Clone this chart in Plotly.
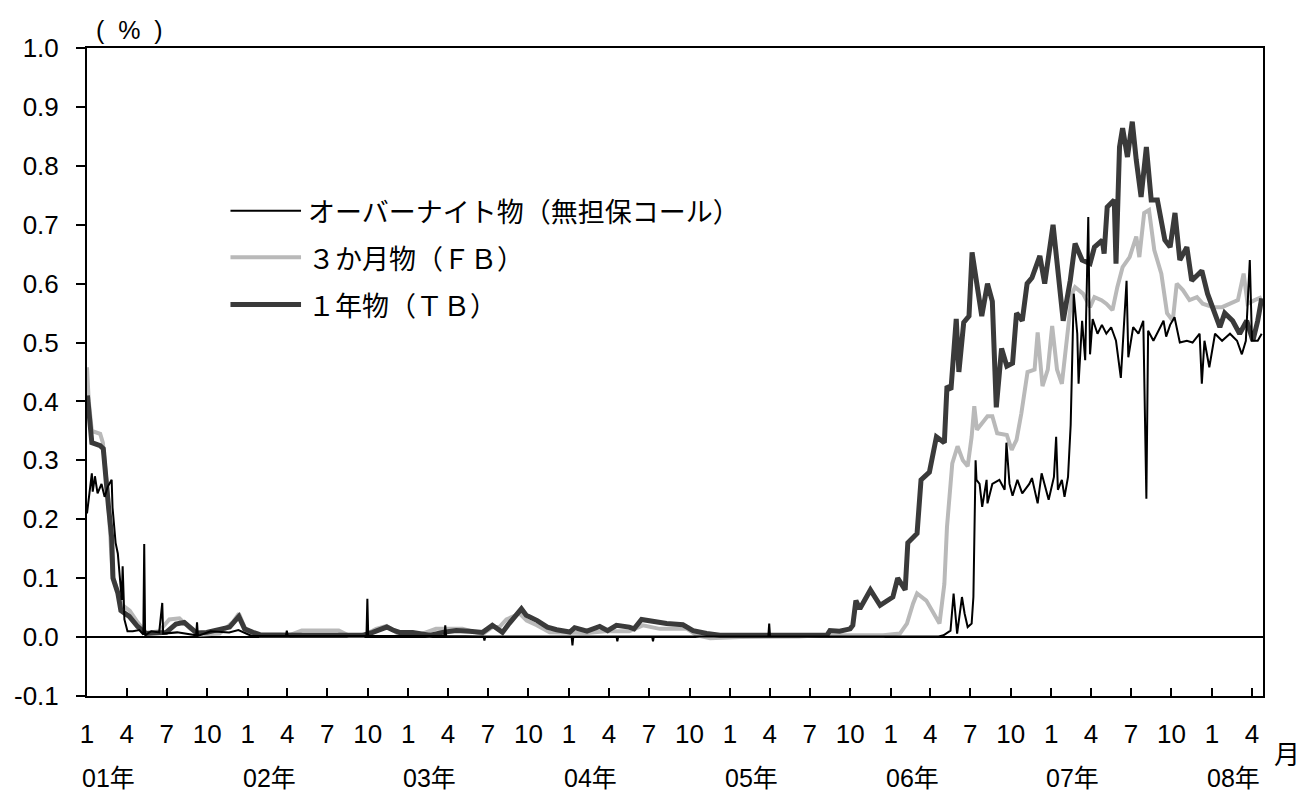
import plotly.graph_objects as go

# 1-year TB
tb_dates = ["2001-01-02", "2001-01-08", "2001-01-12", "2001-01-31", "2001-02-07", "2001-02-19", "2001-02-26",
            "2001-03-01", "2001-03-12", "2001-03-19", "2001-04-07", "2001-04-26", "2001-05-15", "2001-06-30",
            "2001-07-22", "2001-08-10", "2001-09-07", "2001-09-30", "2001-10-30", "2001-11-21", "2001-12-12",
            "2001-12-25", "2002-01-13", "2002-01-29", "2002-04-28", "2002-07-28", "2002-09-19", "2002-10-12",
            "2002-11-13", "2002-11-27", "2002-12-12", "2003-01-11", "2003-02-18", "2003-03-20", "2003-04-20",
            "2003-05-20", "2003-06-19", "2003-07-11", "2003-08-03", "2003-08-18", "2003-09-15", "2003-09-26",
            "2003-10-21", "2003-11-13", "2003-12-04", "2004-01-03", "2004-01-14", "2004-02-11", "2004-03-11",
            "2004-03-29", "2004-04-18", "2004-05-17", "2004-05-28", "2004-06-14", "2004-07-09", "2004-08-10",
            "2004-09-16", "2004-10-09", "2004-11-09", "2004-12-09", "2005-08-09", "2005-08-16", "2005-09-07",
            "2005-10-01", "2005-10-07", "2005-10-14", "2005-10-23", "2005-11-16", "2005-12-08", "2006-01-06",
            "2006-01-17", "2006-02-03", "2006-02-09", "2006-03-02", "2006-03-11", "2006-03-30", "2006-04-15",
            "2006-05-03", "2006-05-09", "2006-05-18", "2006-05-30", "2006-06-05", "2006-06-16", "2006-06-28",
            "2006-07-05", "2006-07-16", "2006-07-27", "2006-08-09", "2006-08-20", "2006-08-29", "2006-09-10",
            "2006-09-22", "2006-10-05", "2006-10-14", "2006-10-27", "2006-11-07", "2006-11-18", "2006-12-06",
            "2006-12-17", "2007-01-05", "2007-01-14", "2007-01-28", "2007-02-13", "2007-02-24", "2007-03-12",
            "2007-03-30", "2007-04-09", "2007-04-27", "2007-05-01", "2007-05-08", "2007-05-24", "2007-05-28",
            "2007-06-05", "2007-06-12", "2007-06-23", "2007-07-04", "2007-07-13", "2007-07-24", "2007-08-05",
            "2007-08-16", "2007-08-30", "2007-09-16", "2007-09-28", "2007-10-09", "2007-10-20", "2007-11-05",
            "2007-11-16", "2007-12-09", "2007-12-22", "2008-01-19", "2008-01-30", "2008-02-17", "2008-03-04",
            "2008-03-20", "2008-04-03", "2008-04-14", "2008-04-23"]
tb_values = [0.41, 0.35, 0.33, 0.325, 0.32, 0.22, 0.17,
             0.10, 0.075, 0.045, 0.035, 0.018, 0.006, 0.008,
             0.022, 0.025, 0.007, 0.008, 0.012, 0.017, 0.035,
             0.014, 0.008, 0.004, 0.003, 0.004, 0.003, 0.008,
             0.017, 0.012, 0.008, 0.008, 0.003, 0.008, 0.011,
             0.010, 0.008, 0.020, 0.008, 0.023, 0.048, 0.037,
             0.028, 0.017, 0.0125, 0.0085, 0.016, 0.010, 0.018,
             0.011, 0.020, 0.017, 0.014, 0.030, 0.026, 0.023,
             0.021, 0.011, 0.006, 0.003, 0.003, 0.011, 0.010,
             0.014, 0.020, 0.062, 0.048, 0.080, 0.054, 0.068,
             0.100, 0.080, 0.160, 0.176, 0.267, 0.280, 0.340,
             0.330, 0.426, 0.420, 0.540, 0.450, 0.534, 0.545,
             0.653, 0.600, 0.545, 0.600, 0.570, 0.390, 0.490,
             0.460, 0.465, 0.550, 0.537, 0.600, 0.610, 0.647,
             0.600, 0.700, 0.640, 0.537, 0.605, 0.668, 0.640,
             0.634, 0.662, 0.674, 0.651, 0.730, 0.742, 0.634,
             0.832, 0.864, 0.815, 0.875, 0.810, 0.747, 0.832,
             0.742, 0.742, 0.674, 0.662, 0.720, 0.640, 0.662,
             0.605, 0.622, 0.583, 0.526, 0.550, 0.537, 0.515,
             0.537, 0.503, 0.537, 0.575]

# 3-month FB
fb_dates = ["2001-01-01", "2001-01-05", "2001-01-12", "2001-01-31", "2001-02-06", "2001-02-18", "2001-02-28",
            "2001-03-21", "2001-04-08", "2001-04-26", "2001-05-16", "2001-06-14", "2001-07-07", "2001-07-30",
            "2001-08-22", "2001-09-13", "2001-10-29", "2001-11-28", "2001-12-12", "2001-12-30", "2002-01-29",
            "2002-04-05", "2002-05-04", "2002-07-27", "2002-08-20", "2002-09-19", "2002-10-20", "2002-11-13",
            "2002-12-12", "2003-01-27", "2003-03-05", "2003-05-04", "2003-05-20", "2003-06-19", "2003-07-11",
            "2003-07-27", "2003-08-12", "2003-09-11", "2003-09-27", "2003-10-20", "2003-11-18", "2004-01-03",
            "2004-02-11", "2004-03-23", "2004-05-17", "2004-06-17", "2004-07-25", "2004-09-25", "2004-10-18",
            "2004-11-17", "2005-01-24", "2005-06-07", "2005-07-23", "2005-10-07", "2005-12-15", "2006-01-22",
            "2006-02-07", "2006-02-21", "2006-03-02", "2006-03-23", "2006-04-06", "2006-04-22", "2006-05-03",
            "2006-05-09", "2006-05-21", "2006-06-02", "2006-06-14", "2006-06-25", "2006-07-04", "2006-07-10",
            "2006-07-16", "2006-07-27", "2006-08-09", "2006-08-20", "2006-08-31", "2006-09-22", "2006-10-03",
            "2006-10-14", "2006-10-25", "2006-11-08", "2006-11-24", "2006-12-01", "2006-12-12", "2006-12-24",
            "2007-01-03", "2007-01-14", "2007-01-25", "2007-02-06", "2007-02-17", "2007-02-24", "2007-03-14",
            "2007-03-30", "2007-04-09", "2007-04-25", "2007-05-06", "2007-05-20", "2007-05-31", "2007-06-12",
            "2007-06-28", "2007-07-13", "2007-07-20", "2007-07-31", "2007-08-11", "2007-08-23", "2007-09-08",
            "2007-09-21", "2007-10-04", "2007-10-13", "2007-10-27", "2007-11-11", "2007-11-28", "2007-12-11",
            "2008-01-04", "2008-01-24", "2008-02-11", "2008-02-29", "2008-03-13", "2008-03-22", "2008-04-07",
            "2008-04-23"]
fb_values = [0.458, 0.40, 0.35, 0.345, 0.33, 0.235, 0.105,
             0.055, 0.045, 0.025, 0.007, 0.010, 0.030, 0.032,
             0.015, 0.004, 0.006, 0.025, 0.040, 0.008, 0.003,
             0.003, 0.011, 0.011, 0.002, 0.002, 0.014, 0.019,
             0.004, 0.004, 0.014, 0.014, 0.011, 0.005, 0.017,
             0.017, 0.030, 0.040, 0.028, 0.020, 0.008, 0.008,
             0.007, 0.010, 0.010, 0.020, 0.014, 0.014, 0.003,
             -0.002, 0.000, 0.001, 0.003, 0.003, 0.003, 0.006,
             0.023, 0.057, 0.074, 0.062, 0.045, 0.023, 0.090,
             0.187, 0.295, 0.324, 0.300, 0.290, 0.340, 0.392,
             0.352, 0.363, 0.375, 0.375, 0.346, 0.343, 0.318,
             0.335, 0.380, 0.450, 0.454, 0.517, 0.426, 0.454,
             0.528, 0.454, 0.430, 0.510, 0.583, 0.594, 0.583,
             0.560, 0.577, 0.572, 0.566, 0.555, 0.594, 0.628,
             0.645, 0.680, 0.645, 0.720, 0.725, 0.657, 0.617,
             0.550, 0.537, 0.600, 0.589, 0.572, 0.577, 0.566,
             0.560, 0.560, 0.566, 0.572, 0.617, 0.566, 0.572,
             0.577]

# overnight call (uncollateralized)
on_dates = ["2001-01-01", "2001-01-04", "2001-01-12", "2001-01-14", "2001-01-19", "2001-01-25", "2001-02-03",
            "2001-02-10", "2001-02-17", "2001-02-26", "2001-02-28", "2001-03-07", "2001-03-12", "2001-03-21",
            "2001-03-23", "2001-03-27", "2001-04-03", "2001-04-15", "2001-04-30", "2001-05-09", "2001-05-11",
            "2001-05-13", "2001-05-27", "2001-06-14", "2001-06-21", "2001-06-23", "2001-07-25", "2001-09-06",
            "2001-09-08", "2001-09-10", "2001-10-09", "2001-11-20", "2001-12-11", "2002-01-10", "2002-03-29",
            "2002-03-31", "2002-04-02", "2002-09-28", "2002-09-30", "2002-10-02", "2003-03-24", "2003-03-26",
            "2003-03-28", "2003-06-21", "2003-06-23", "2003-06-25", "2004-01-07", "2004-01-09", "2004-01-11",
            "2004-04-18", "2004-04-20", "2004-04-22", "2004-07-08", "2004-07-10", "2004-07-12", "2005-03-29",
            "2005-03-31", "2005-04-02", "2006-04-20", "2006-05-01", "2006-05-17", "2006-05-24", "2006-06-01",
            "2006-06-12", "2006-06-18", "2006-06-25", "2006-07-04", "2006-07-08", "2006-07-13", "2006-07-15",
            "2006-07-22", "2006-07-28", "2006-08-07", "2006-08-09", "2006-08-20", "2006-09-05", "2006-09-17",
            "2006-09-21", "2006-09-28", "2006-10-05", "2006-10-16", "2006-10-27", "2006-11-12", "2006-11-18",
            "2006-12-01", "2006-12-10", "2006-12-26", "2007-01-07", "2007-01-12", "2007-01-16", "2007-01-25",
            "2007-01-31", "2007-02-08", "2007-02-14", "2007-02-21", "2007-03-01", "2007-03-04", "2007-03-12",
            "2007-03-19", "2007-03-26", "2007-03-30", "2007-04-05", "2007-04-16", "2007-04-26", "2007-05-06",
            "2007-05-17", "2007-05-28", "2007-06-08", "2007-06-14", "2007-06-21", "2007-06-25", "2007-07-06",
            "2007-07-18", "2007-07-29", "2007-08-05", "2007-08-09", "2007-08-21", "2007-09-01", "2007-09-13",
            "2007-09-19", "2007-09-28", "2007-10-08", "2007-10-20", "2007-11-05", "2007-11-18", "2007-12-04",
            "2007-12-09", "2007-12-15", "2007-12-26", "2008-01-08", "2008-01-24", "2008-02-11", "2008-02-27",
            "2008-03-09", "2008-03-18", "2008-03-27", "2008-04-01", "2008-04-14", "2008-04-23"]
on_values = [0.21, 0.23, 0.278, 0.247, 0.273, 0.244, 0.26,
             0.238, 0.255, 0.267, 0.22, 0.16, 0.142, 0.063,
             0.12, 0.03, 0.01, 0.01, 0.012, 0.004, 0.158,
             0.003, 0.01, 0.008, 0.058, 0.006, 0.008, 0.003,
             0.025, 0.002, 0.01, 0.008, 0.012, 0.002, 0.002,
             0.011, 0.002, 0.002, 0.065, 0.002, 0.002, 0.02,
             0.002, 0.001, -0.006, 0.001, 0.001, -0.014, 0.001,
             0.001, -0.007, 0.001, 0.001, -0.007, 0.001, 0.001,
             0.023, 0.001, 0.001, 0.003, 0.011, 0.074, 0.006,
             0.068, 0.04, 0.017, 0.023, 0.068, 0.30, 0.267,
             0.26, 0.221, 0.267, 0.227, 0.26, 0.267, 0.25,
             0.33, 0.26, 0.24, 0.267, 0.244, 0.26, 0.27,
             0.227, 0.278, 0.233, 0.272, 0.34, 0.25, 0.267,
             0.238, 0.272, 0.36, 0.583, 0.515, 0.43, 0.537,
             0.47, 0.713, 0.48, 0.54, 0.515, 0.53, 0.515,
             0.526, 0.503, 0.44, 0.52, 0.605, 0.475, 0.526,
             0.515, 0.537, 0.235, 0.52, 0.503, 0.52, 0.537,
             0.51, 0.53, 0.543, 0.50, 0.503, 0.50, 0.515,
             0.43, 0.503, 0.458, 0.515, 0.503, 0.515, 0.503,
             0.48, 0.503, 0.64, 0.503, 0.503, 0.515]

# axis labels
x_tick_dates = []
x_tick_text = []
for yr in range(2001, 2009):
    for m in (1, 4, 7, 10):
        if yr == 2008 and m > 4:
            break
        x_tick_dates.append(f"{yr}-{m:02d}-01")
        x_tick_text.append(str(m))
year_labels = ["01年", "02年", "03年", "04年", "05年", "06年", "07年", "08年"]
y_tick_vals = [-0.1, 0.0, 0.1, 0.2, 0.3, 0.4, 0.5, 0.6, 0.7, 0.8, 0.9, 1.0]
y_tick_text = ["-0.1", "0.0", "0.1", "0.2", "0.3", "0.4", "0.5", "0.6", "0.7", "0.8", "0.9", "1.0"]

legend_names = ["オーバーナイト物（無担保コール）", "３か月物（ＦＢ）", "１年物（ＴＢ）"]

FONT = "Liberation Sans, Arial, Noto Sans CJK JP"
JP_FONT = "Noto Sans CJK JP, Liberation Sans"

fig = go.Figure()
fig.add_trace(go.Scatter(x=fb_dates, y=fb_values, mode="lines",
                         line=dict(color="#b9b9b9", width=4), name=legend_names[1]))
fig.add_trace(go.Scatter(x=tb_dates, y=tb_values, mode="lines",
                         line=dict(color="#3a3a3a", width=5), name=legend_names[2]))
fig.add_trace(go.Scatter(x=on_dates, y=on_values, mode="lines",
                         line=dict(color="black", width=2), name=legend_names[0]))

# hand-drawn legend (sample lines + labels)
leg_styles = [("black", 2), ("#b9b9b9", 4), ("#3a3a3a", 5)]
leg_y = [0.749, 0.677, 0.604]
for name, (col, w), yy in zip(legend_names, leg_styles, leg_y):
    fig.add_shape(type="line", xref="paper", yref="paper", x0=0.122, x1=0.182, y0=yy, y1=yy,
                  line=dict(color=col, width=w))
    fig.add_annotation(xref="paper", yref="paper", x=0.186, y=yy, text=name, showarrow=False,
                       xanchor="left", yanchor="middle", font=dict(family=JP_FONT, size=27, color="black"))

# year labels under the month ticks
for yr, lab in zip(range(2001, 2009), year_labels):
    fig.add_annotation(xref="x", yref="paper", x=f"{yr}-01-01", y=-0.127, text=lab, showarrow=False,
                       xanchor="left", yanchor="middle", xshift=-7,
                       font=dict(family=FONT, size=25, color="black"))

fig.add_annotation(xref="paper", yref="paper", x=1.0, y=-0.087, text="月", showarrow=False,
                   xanchor="left", yanchor="middle", xshift=9, font=dict(family=JP_FONT, size=26, color="black"))
fig.add_annotation(xref="paper", yref="paper", x=0.036, y=1.0, text="(\u00a0\u00a0%\u00a0\u00a0)", showarrow=False,
                   xanchor="center", yanchor="bottom", yshift=2, font=dict(family=FONT, size=25, color="black"))

fig.update_layout(
    width=1301, height=792,
    margin=dict(l=87, r=38, t=48, b=96),
    plot_bgcolor="white", paper_bgcolor="white",
    showlegend=False,
    font=dict(family=FONT, size=26, color="black"),
)
fig.update_xaxes(
    type="date", range=["2001-01-01", "2008-04-26"],
    tickmode="array", tickvals=x_tick_dates, ticktext=x_tick_text,
    ticks="inside", ticklen=8, tickwidth=2, tickcolor="black",
    showline=True, linecolor="black", linewidth=2, mirror=True,
    showgrid=False, zeroline=False, ticklabelstandoff=14,
)
fig.update_yaxes(
    range=[-0.1, 1.0], tickmode="array", tickvals=y_tick_vals, ticktext=y_tick_text,
    ticks="outside", ticklen=9, tickwidth=2, tickcolor="black",
    showline=True, linecolor="black", linewidth=2, mirror=True,
    showgrid=False, zeroline=True, zerolinecolor="black", zerolinewidth=2,
    ticklabelstandoff=12,
)

fig.write_html("out.html", config={"displayModeBar": False},
               post_script="document.body.style.margin='0';")
